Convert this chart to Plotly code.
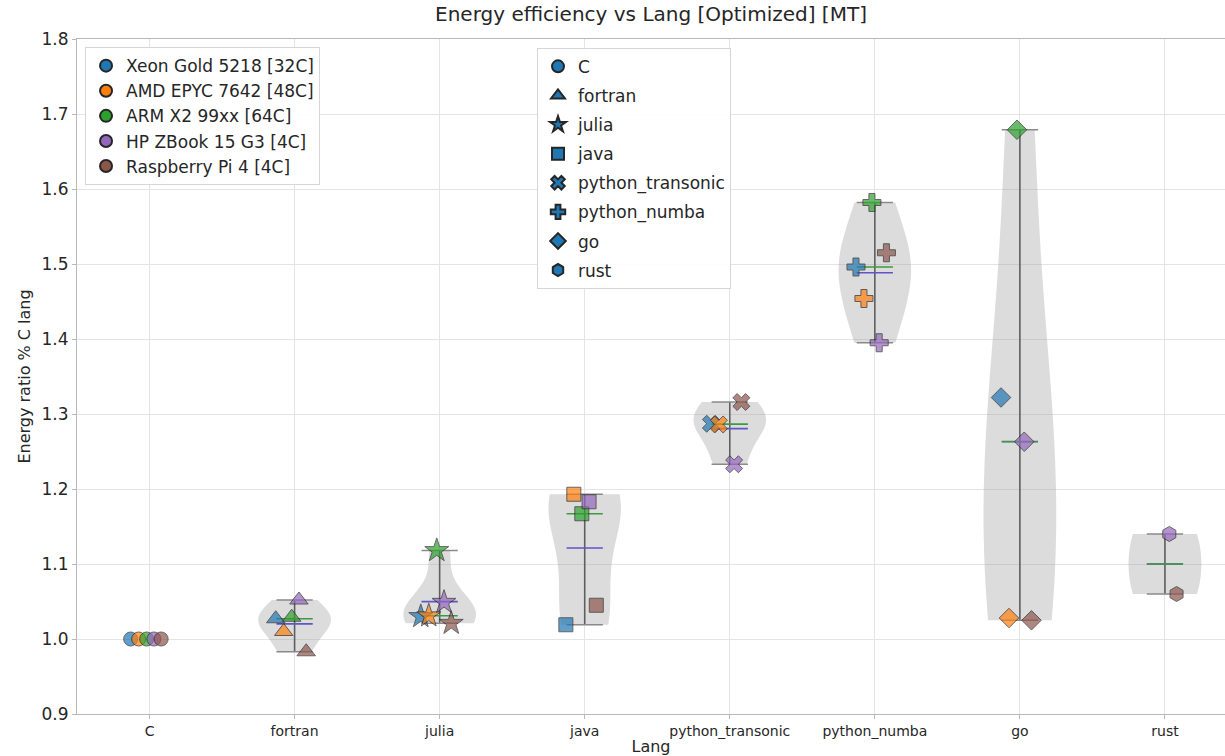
import numpy as np
import plotly.graph_objects as go

# Languages (x categories) and the energy ratio relative to C for each machine
LANGS = ["C", "fortran", "julia", "java", "python_transonic", "python_numba", "go", "rust"]

MACHINES = ["Xeon Gold 5218 [32C]", "AMD EPYC 7642 [48C]", "ARM X2 99xx [64C]",
            "HP ZBook 15 G3 [4C]", "Raspberry Pi 4 [4C]"]

XEON = [1.000, 1.027, 1.030, 1.019, 1.287, 1.496, 1.322, None]
AMD = [1.000, 1.010, 1.031, 1.193, 1.286, 1.454, 1.028, None]
ARM = [1.000, 1.029, 1.118, 1.167, None, 1.582, 1.679, None]
HPZ = [1.000, 1.052, 1.049, 1.183, 1.233, 1.395, 1.263, 1.140]
RPI = [1.000, 0.983, 1.021, 1.045, 1.316, 1.515, 1.025, 1.060]

SERIES = [XEON, AMD, ARM, HPZ, RPI]

# Styling
MACHINE_COLORS = ["#1f77b4", "#ff7f0e", "#2ca02c", "#9467bd", "#8c564b"]
MACHINE_OFFSETS = [-0.13, -0.075, -0.02, 0.03, 0.08]
LANG_SYMBOLS = ["circle", "triangle-up", "star", "square", "x", "cross", "diamond", "hexagon"]
LANG_SIZES = [14, 16, 18, 14, 15, 15, 15, 15]
VIOLIN_WIDTH = 0.5
FONT = "DejaVu Sans"

fig = go.Figure()

# Violin bodies (Scott's rule bandwidth, clipped to the data range)
mins, maxs, means, medians = [], [], [], []
for i, lang in enumerate(LANGS):
    vals = np.array([s[i] for s in SERIES if s[i] is not None], dtype=float)
    mins.append(vals.min())
    maxs.append(vals.max())
    means.append(vals.mean())
    medians.append(np.median(vals))
    sd = vals.std(ddof=1)
    if sd == 0:
        continue
    bw = sd * len(vals) ** (-1 / 5)
    fig.add_trace(go.Violin(
        x=[i] * len(vals), y=vals, width=VIOLIN_WIDTH, bandwidth=bw,
        spanmode="hard", points=False, box_visible=False, meanline_visible=False,
        fillcolor="rgba(150,150,150,0.33)", line=dict(color="rgba(150,150,150,0.0)", width=0),
        showlegend=False, hoverinfo="skip", scalemode="width",
    ))


def hsegments(values, half):
    xs, ys = [], []
    for i, v in enumerate(values):
        if maxs[i] == mins[i]:
            continue
        xs += [i - half, i + half, None]
        ys += [v, v, None]
    return xs, ys


# Vertical bars from min to max
vx, vy = [], []
for i in range(len(LANGS)):
    if maxs[i] == mins[i]:
        continue
    vx += [i, i, None]
    vy += [mins[i], maxs[i], None]
fig.add_trace(go.Scatter(x=vx, y=vy, mode="lines", line=dict(color="#5f5f5f", width=1.6),
                         showlegend=False, hoverinfo="skip"))

half = VIOLIN_WIDTH / 4
for vals, color in [(mins, "#8a8a8a"), (maxs, "#8a8a8a"), (means, "#5f55c8"), (medians, "#3f9a3f")]:
    sx, sy = hsegments(vals, half)
    fig.add_trace(go.Scatter(x=sx, y=sy, mode="lines", line=dict(color=color, width=1.6),
                             showlegend=False, hoverinfo="skip"))

# Data points: one trace per machine, symbol per language
for m, (name, series) in enumerate(zip(MACHINES, SERIES)):
    xs, ys, syms, sizes = [], [], [], []
    for i, v in enumerate(series):
        if v is None:
            continue
        xs.append(i + MACHINE_OFFSETS[m])
        ys.append(v)
        syms.append(LANG_SYMBOLS[i])
        sizes.append(LANG_SIZES[i])
    fig.add_trace(go.Scatter(
        x=xs, y=ys, mode="markers", showlegend=False,
        marker=dict(color=MACHINE_COLORS[m], symbol=syms, size=sizes,
                    line=dict(color="#262626", width=1)),
        name=name,
    ))

# Legend: machines
for m, name in enumerate(MACHINES):
    fig.add_trace(go.Scatter(
        x=[None], y=[None], mode="markers", name=name, legend="legend",
        marker=dict(color=MACHINE_COLORS[m], symbol="circle", size=13,
                    line=dict(color="#262626", width=1)),
    ))

# Legend: languages
for i, lang in enumerate(LANGS):
    fig.add_trace(go.Scatter(
        x=[None], y=[None], mode="markers", name=lang, legend="legend2", legendgroup=lang,
        marker=dict(color="#1f77b4", symbol=LANG_SYMBOLS[i], size=13,
                    line=dict(color="#262626", width=1)),
    ))

axis_line = "#b8b8b8"
grid = "#e4e4e4"

fig.update_layout(
    width=1225, height=756,
    margin=dict(l=77, r=0, t=39, b=42),
    paper_bgcolor="white", plot_bgcolor="white",
    violinmode="overlay",
    font=dict(family=FONT, color="#262626"),
    title=dict(text="Energy efficiency vs Lang [Optimized] [MT]", x=0.5, xref="paper",
               xanchor="center", y=1 - 14 / 756, yref="container", yanchor="middle",
               font=dict(size=20, family=FONT, color="#262626")),
    xaxis=dict(range=[-0.5, 7.414], tickmode="array", tickvals=list(range(len(LANGS))),
               ticktext=LANGS, showgrid=True, gridcolor=grid, gridwidth=1,
               showline=True, linecolor=axis_line, linewidth=1.2, mirror=True,
               ticks="outside", ticklen=4, tickcolor=axis_line,
               tickfont=dict(size=14), zeroline=False,
               title=dict(text="Lang", font=dict(size=16), standoff=2)),
    yaxis=dict(range=[0.9, 1.8], dtick=0.1, tick0=0.9, tickformat=".1f",
               showgrid=True, gridcolor=grid, gridwidth=1,
               showline=True, linecolor=axis_line, linewidth=1.2,
               ticks="outside", ticklen=4, tickcolor=axis_line,
               tickfont=dict(size=17), zeroline=False,
               title=dict(text="Energy ratio % C lang", font=dict(size=16), standoff=6)),
    legend=dict(x=0.007, y=0.988, xanchor="left", yanchor="top",
                bgcolor="rgba(255,255,255,0.9)", bordercolor="#d6d6d6", borderwidth=1,
                font=dict(size=17, family=FONT), itemsizing="constant"),
    legend2=dict(x=0.4007, y=0.987, xanchor="left", yanchor="top",
                 bgcolor="rgba(255,255,255,0.9)", bordercolor="#d6d6d6", borderwidth=1,
                 font=dict(size=17, family=FONT), itemsizing="constant", tracegroupgap=4),
)

fig.write_html("out.html")
